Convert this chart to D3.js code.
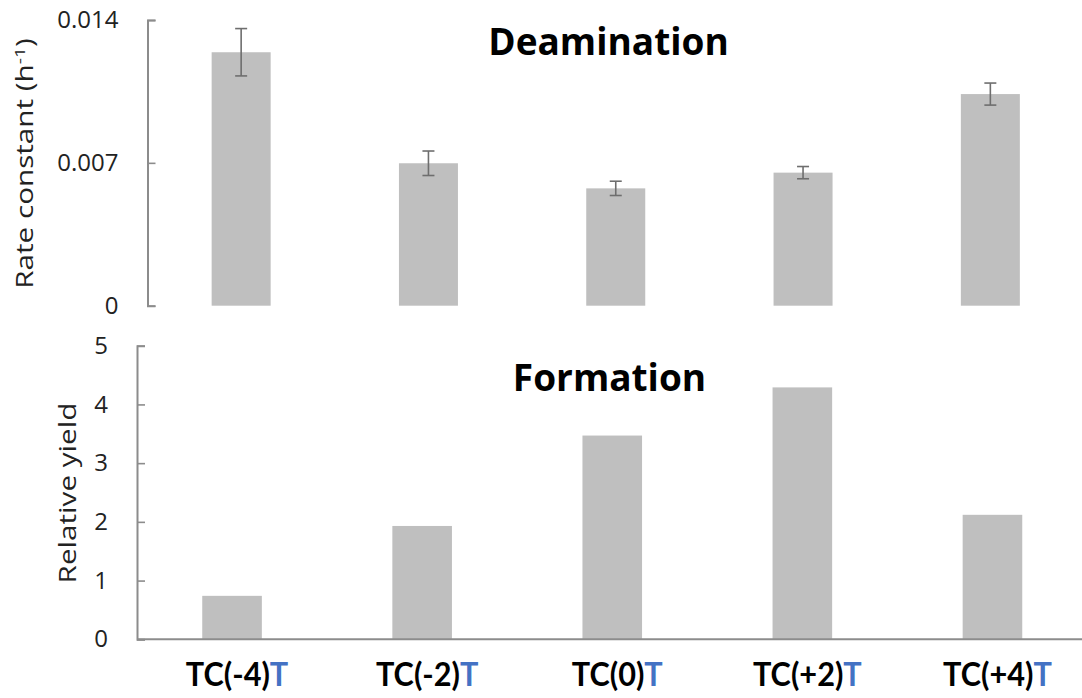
<!DOCTYPE html>
<html>
<head>
<meta charset="utf-8">
<script src="https://cdn.jsdelivr.net/npm/d3@7"></script>
<style>
  html, body { margin: 0; padding: 0; background: #fff; }
  svg { display: block; }
</style>
</head>
<body>
<svg id="chart" width="1082" height="698"></svg>
<script>
// Sequence contexts (flanking T position relative to TC)
const categories = ["TC(-4)", "TC(-2)", "TC(0)", "TC(+2)", "TC(+4)"];
const labelSuffix = "T";

// Deamination rate constants (h^-1) with error
const rateValues = [0.01242, 0.00698, 0.00575, 0.00652, 0.01037];
const rateErrors = [0.00116, 0.00060, 0.00035, 0.00030, 0.00054];

// Relative yield of formation
const yieldValues = [0.74, 1.93, 3.47, 4.29, 2.12];

// Axis ticks
const rateTicks = [0, 0.007, 0.014];
const yieldTicks = [0, 1, 2, 3, 4, 5];

const svg = d3.select("#chart");
const barColor = "#bfbfbf";
const axisColor = "#8c8c8c";
const textColor = "#222";
const blue = "#4472c4";
const bodyFont = "'Open Sans', sans-serif";
const labelFont = "Lato, 'Open Sans', sans-serif";

// ---------- Top panel: Deamination ----------
const xTop = d3.scaleBand().domain(categories).range([147.5, 1084])
  .paddingInner(0.685).paddingOuter(0.3425);
const yTop = d3.scaleLinear().domain([0, 0.014]).range([305.7, 20]);

const topPanel = svg.append("g");
topPanel.selectAll("rect.bar").data(categories).join("rect")
  .attr("class", "bar")
  .attr("x", d => xTop(d))
  .attr("width", xTop.bandwidth())
  .attr("y", (d, i) => yTop(rateValues[i]))
  .attr("height", (d, i) => yTop(0) - yTop(rateValues[i]))
  .attr("fill", barColor);

// error bars
const eb = topPanel.selectAll("g.err").data(categories).join("g").attr("class", "err")
  .attr("stroke", "#6e6e6e").attr("stroke-width", 1.6);
const capW = 6;
const cx = d => xTop(d) + xTop.bandwidth() / 2;
eb.append("line")
  .attr("x1", cx).attr("x2", cx)
  .attr("y1", (d, i) => yTop(rateValues[i] + rateErrors[i]))
  .attr("y2", (d, i) => yTop(rateValues[i] - rateErrors[i]));
eb.append("line")
  .attr("x1", d => cx(d) - capW).attr("x2", d => cx(d) + capW)
  .attr("y1", (d, i) => yTop(rateValues[i] + rateErrors[i]))
  .attr("y2", (d, i) => yTop(rateValues[i] + rateErrors[i]));
eb.append("line")
  .attr("x1", d => cx(d) - capW).attr("x2", d => cx(d) + capW)
  .attr("y1", (d, i) => yTop(rateValues[i] - rateErrors[i]))
  .attr("y2", (d, i) => yTop(rateValues[i] - rateErrors[i]));

const yAxisTop = d3.axisLeft(yTop).tickValues(rateTicks)
  .tickSizeInner(-8).tickSizeOuter(-8).tickPadding(29)
  .tickFormat(d => d === 0 ? "0" : d3.format(".3f")(d));
const gyTop = topPanel.append("g").attr("transform", "translate(147.5,0)").call(yAxisTop);

// ---------- Bottom panel: Formation ----------
const xBot = d3.scaleBand().domain(categories).range([137, 1087.5])
  .paddingInner(0.6865).paddingOuter(0.34325);
const yBot = d3.scaleLinear().domain([0, 5]).range([639.3, 345.7]);

const botPanel = svg.append("g");
botPanel.selectAll("rect.bar").data(categories).join("rect")
  .attr("class", "bar")
  .attr("x", d => xBot(d))
  .attr("width", xBot.bandwidth())
  .attr("y", (d, i) => yBot(yieldValues[i]))
  .attr("height", (d, i) => yBot(0) - yBot(yieldValues[i]))
  .attr("fill", barColor);

const yAxisBot = d3.axisLeft(yBot).tickValues(yieldTicks)
  .tickSizeInner(-8).tickSizeOuter(-8).tickPadding(29)
  .tickFormat(d3.format("d"));
const gyBot = botPanel.append("g").attr("transform", "translate(137,0)").call(yAxisBot);

// category axis along the bottom
const xAxisBot = d3.axisBottom(xBot).tickSize(0).tickPadding(0).tickFormat("");
const gxBot = botPanel.append("g").attr("transform", `translate(0,${yBot(0)})`).call(xAxisBot);
gxBot.select(".domain").attr("d", "M137,0H1082");

// axis styling
[gyTop, gyBot, gxBot].forEach(g => {
  g.select(".domain").attr("stroke", axisColor).attr("stroke-width", 2);
  g.selectAll(".tick line").attr("stroke", axisColor).attr("stroke-width", 1.6);
  g.selectAll(".tick text").attr("fill", textColor)
    .style("font-family", bodyFont).style("font-size", "24px");
});

// category labels: "TC(n)" in black followed by a blue "T", slightly condensed
const lblGroups = svg.append("g").selectAll("g").data(categories).join("g")
  .attr("transform", d => `translate(${xBot(d) + xBot.bandwidth() / 2 + 5},686) scale(0.93,1)`);
lblGroups.each(function (d) {
  const g = d3.select(this);
  const t1 = g.append("text").attr("fill", "#000")
    .style("font-family", labelFont).style("font-weight", "bold").style("font-size", "33px")
    .text(d);
  const t2 = g.append("text").attr("fill", blue)
    .style("font-family", labelFont).style("font-weight", "bold").style("font-size", "33px")
    .text(labelSuffix);
  const w1 = t1.node().getComputedTextLength();
  const w2 = t2.node().getComputedTextLength();
  t1.attr("x", -(w1 + w2) / 2);
  t2.attr("x", -(w1 + w2) / 2 + w1);
});

// panel titles
svg.append("text").attr("x", 608.5).attr("y", 55).attr("text-anchor", "middle")
  .style("font-family", bodyFont).style("font-weight", "bold").style("font-size", "37px")
  .attr("fill", "#000").text("Deamination");
svg.append("text").attr("x", 609.5).attr("y", 391).attr("text-anchor", "middle")
  .style("font-family", bodyFont).style("font-weight", "bold").style("font-size", "37px")
  .attr("fill", "#000").text("Formation");

// y-axis titles (stretched along their length)
const yt1 = svg.append("text")
  .attr("transform", "translate(33,163.5) rotate(-90) scale(1.29,1)")
  .attr("text-anchor", "middle")
  .style("font-family", bodyFont).style("font-size", "23px")
  .attr("fill", textColor);
yt1.append("tspan").text("Rate constant (h");
yt1.append("tspan").attr("dy", -8).style("font-size", "15px").text("-1");
yt1.append("tspan").attr("dy", 8).text(")");

svg.append("text")
  .attr("transform", "translate(76,493) rotate(-90) scale(1.29,1)")
  .attr("text-anchor", "middle")
  .style("font-family", bodyFont).style("font-size", "23px")
  .attr("fill", textColor)
  .text("Relative yield");
</script>
</body>
</html>
